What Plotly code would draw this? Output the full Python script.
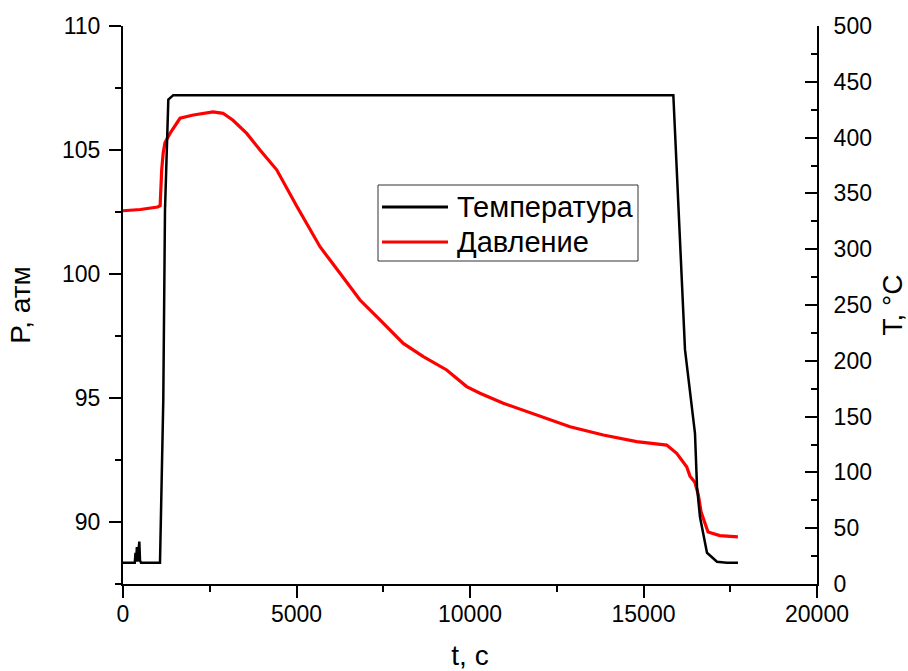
import plotly.graph_objects as go

# Temperature (right axis), t in s
t_T = [0, 340, 360, 380, 400, 420, 470, 490, 520, 800, 1066, 1161, 1210, 1306, 1450,
       3000, 6000, 9000, 12000, 15000, 15860, 16196, 16484, 16542, 16628, 16830,
       17118, 17400, 17723]
T = [19, 19, 28, 20, 33, 20, 38, 21, 19, 19, 19, 165, 335, 434, 438,
     438, 438, 438, 438, 438, 438, 210, 135, 87, 60, 28,
     20, 19, 19]

# Pressure (left axis)
t_P = [0, 500, 1000, 1070, 1115, 1160, 1210, 1355, 1643, 2027, 2594, 2882, 3170,
       3565, 3948, 4429, 5000, 5677, 6254, 6830, 7406, 8078, 8655, 9328, 9904,
       10288, 10960, 11922, 12882, 13842, 14803, 15668, 15956, 16244, 16340,
       16480, 16580, 16660, 16860, 17200, 17720]
P = [102.55, 102.6, 102.7, 102.75, 104.2, 104.9, 105.3, 105.67, 106.28, 106.41,
     106.54, 106.48, 106.2, 105.67, 105.0, 104.2, 102.75, 101.1, 100.03, 98.95,
     98.15, 97.2, 96.67, 96.13, 95.46, 95.19, 94.79, 94.31, 93.84, 93.51, 93.24,
     93.1, 92.77, 92.23, 91.85, 91.6, 91.1, 90.4, 89.6, 89.45, 89.4]

x_ticks = [0, 5000, 10000, 15000, 20000]
x_ticktext = ["0", "5000", "10000", "15000", "20000"]
p_ticks = [90, 95, 100, 105, 110]
t_ticks = list(range(0, 501, 50))

FONT = "Liberation Sans, Arial, sans-serif"

fig = go.Figure()
fig.add_trace(go.Scatter(x=t_P, y=P, mode="lines", name="Давление",
                         line=dict(color="#ff0000", width=3.2), yaxis="y"))
fig.add_trace(go.Scatter(x=t_T, y=T, mode="lines", name="Температура",
                         line=dict(color="#000000", width=2.5), yaxis="y2"))

axis_common = dict(showgrid=False, zeroline=False, showline=True, linecolor="black",
                   linewidth=2, tickcolor="black", tickwidth=2, ticklen=12,
                   automargin=False,
                   tickfont=dict(family=FONT, size=23, color="black"))

fig.update_layout(
    width=908, height=671,
    margin=dict(l=123, r=91, t=26, b=87),
    paper_bgcolor="white", plot_bgcolor="white",
    showlegend=False,
    font=dict(family=FONT, color="black"),
    xaxis=dict(range=[0, 20000], tickvals=x_ticks, ticktext=x_ticktext,
               ticks="outside", ticklabelstandoff=-4,
               minor=dict(ticks="outside", ticklen=6, tickwidth=2, tickcolor="black", dtick=2500),
               title=dict(text="t, c", font=dict(family=FONT, size=28), standoff=30),
               **axis_common),
    yaxis=dict(range=[87.5, 110], tickvals=p_ticks,
               ticks="outside", ticklabelstandoff=4,
               minor=dict(ticks="outside", ticklen=6, tickwidth=2, tickcolor="black", dtick=2.5),
               title=dict(text="P, атм", font=dict(family=FONT, size=28), standoff=23),
               **axis_common),
    yaxis2=dict(range=[0, 500], tickvals=t_ticks,
                overlaying="y", side="right", anchor="x",
                ticks="inside", ticklabelstandoff=10,
                minor=dict(ticks="inside", ticklen=6, tickwidth=2, tickcolor="black", dtick=25),
                title=dict(text="T, °C", font=dict(family=FONT, size=28), standoff=12),
                **axis_common),
)

# Legend drawn as a box with sample lines and labels
def px_x(p):
    return (p - 123) / 694.0

def px_y(p):
    return (584 - p) / 558.0

fig.add_shape(type="rect", xref="paper", yref="paper",
              x0=px_x(378), x1=px_x(638), y0=px_y(261), y1=px_y(185),
              line=dict(color="#333333", width=1), fillcolor="white", layer="above")
legend_items = [("Температура", "#000000", 207), ("Давление", "#ff0000", 242)]
for label, col, yy in legend_items:
    fig.add_shape(type="line", xref="paper", yref="paper",
                  x0=px_x(382), x1=px_x(448), y0=px_y(yy), y1=px_y(yy),
                  line=dict(color=col, width=3), layer="above")
    fig.add_annotation(xref="paper", yref="paper", x=px_x(455), y=px_y(yy),
                       text=label, showarrow=False, xanchor="left", yanchor="middle",
                       font=dict(family=FONT, size=29, color="black"))

fig.write_html("out.html")
